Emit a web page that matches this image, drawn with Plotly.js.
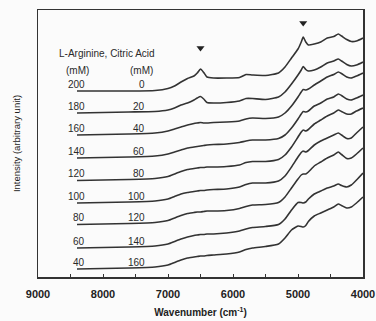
<!DOCTYPE html>
<html>
<head>
<meta charset="utf-8">
<script src="https://cdn.plot.ly/plotly-3.0.1.min.js"></script>
<style>html,body{margin:0;padding:0;background:#fbfbfb;}#chart{width:376px;height:321px;}</style>
</head>
<body>
<div id="chart"></div>
<script>
// Wavenumber grid (cm^-1)
const wavenumber = [8400, 8000, 7600, 7200, 7000, 6900, 6800, 6700, 6600, 6550, 6500, 6450, 6400, 6300, 6100, 5900, 5800, 5700, 5500, 5300, 5200, 5100, 5000, 4950, 4920, 4880, 4840, 4750, 4650, 4550, 4450, 4380, 4330, 4250, 4180, 4100, 4000];

// Concentration labels (mM)
const arginine = [200, 180, 160, 140, 120, 100, 80, 60, 40];
const citricAcid = [0, 20, 40, 60, 80, 100, 120, 140, 160];

// Intensity (arbitrary unit, stacked as drawn)
const s200_0   = [189, 189, 189, 189.5, 191.5, 194, 198, 201.5, 204, 207, 211, 207.5, 203, 202, 202, 202.5, 205.5, 205, 204.5, 207, 213, 222, 231, 238, 243, 238, 235, 236, 238, 242, 243.5, 246, 244, 240.5, 238.5, 239, 242];
const s180_20  = [167, 167.5, 168, 168.5, 170, 172, 175, 177, 180, 182, 183.5, 181, 177.5, 177, 177.5, 179, 181.5, 181.5, 180.5, 183, 188, 196, 205, 210, 213.5, 210.5, 209, 210, 213, 217, 219, 221, 219, 215.5, 214, 215, 218];
const s160_40  = [145, 145.5, 146, 147, 149, 151, 153, 155, 156.5, 157, 157.5, 157, 157, 157.5, 158, 159, 161, 162, 161.5, 163, 167, 174, 183, 188, 190.5, 190, 191, 195, 199, 203, 205.5, 208, 206.5, 203, 202, 204, 207];
const s140_60  = [122, 122.5, 123, 124, 126, 128, 130, 132, 133, 133.5, 134, 134.5, 135, 135.5, 136, 137.5, 139, 140, 140, 141.5, 145, 152, 161, 166, 168.5, 168, 169, 174, 177, 181, 183, 186, 184.5, 181, 180, 182, 185];
const s120_80  = [99.5, 100, 100.5, 101.5, 103.5, 106, 108.5, 110.5, 111.5, 112, 112.5, 112.5, 113, 113, 113.5, 115, 117.5, 118.5, 118.5, 120.5, 125, 133, 143, 148, 150, 149, 150.5, 156, 160, 164, 167, 170, 168.5, 166, 166, 169, 172];
const s100_100 = [77, 77.5, 78, 79, 81, 83.5, 86, 87.5, 88.5, 89, 89.5, 89.5, 90, 90.5, 91, 93, 95.5, 97, 97, 99, 104, 113, 123, 127.5, 129, 128, 129.5, 135, 139, 142, 145, 147, 145, 141.5, 142, 147, 153];
const s80_120  = [55.5, 56, 56.5, 57.5, 59.5, 62, 64.5, 66.5, 67.5, 68, 68, 68.5, 69, 69, 69.5, 71.5, 73.5, 75, 75.5, 77.5, 83, 92, 101, 105, 106, 106, 108, 114, 118, 122, 125, 128, 125.5, 121.5, 122, 126, 132];
const s60_140  = [32, 32.5, 33, 34, 36, 38.5, 41, 43, 44.5, 45, 45.5, 45.5, 46, 46, 47, 49, 51, 52.5, 53.5, 55.5, 61, 70, 77.5, 77.5, 77, 78, 81, 86, 89, 92, 94, 96, 94.5, 93, 95, 100, 107];
const s40_160  = [11, 11.5, 12, 13, 15, 17.5, 20, 22, 23, 23.5, 24, 24, 24.5, 25, 26, 28, 30.5, 32, 33.5, 36, 42, 50, 54, 53.5, 53, 54.5, 58.5, 64, 67, 70, 73, 76, 74.5, 72, 73, 77, 83];

const spectra = [s200_0, s180_20, s160_40, s140_60, s120_80, s100_100, s80_120, s60_140, s40_160];

// Peak markers (arrowheads)
const peakWavenumber = [6500, 4920];
const peakMarkY = [232, 257];

const fam = 'Liberation Sans, Arial, sans-serif';
const textFont = {family: fam, size: 10, color: '#2a2a2a'};

const traces = spectra.map((s) => ({
  x: wavenumber, y: s, type: 'scatter', mode: 'lines',
  line: {color: '#333', width: 1.6, shape: 'spline', smoothing: 0.5},
  hoverinfo: 'skip', showlegend: false
}));
traces.push({
  x: peakWavenumber, y: peakMarkY, type: 'scatter', mode: 'markers',
  marker: {symbol: 'triangle-down', size: 7, color: '#222'},
  showlegend: false, hoverinfo: 'skip'
});

const annotations = [];
spectra.forEach((s, i) => {
  annotations.push({x: 8246, y: s[0], xref: 'x', yref: 'y', text: String(arginine[i]),
    showarrow: false, xanchor: 'right', yanchor: 'middle', yshift: 7, font: textFont});
  annotations.push({x: 7323, y: s[0], xref: 'x', yref: 'y', text: String(citricAcid[i]),
    showarrow: false, xanchor: 'right', yanchor: 'middle', yshift: 7, font: textFont});
});
annotations.push({x: 7938, y: 227, xref: 'x', yref: 'y', text: 'L-Arginine, Citric Acid',
  showarrow: false, xanchor: 'center', yanchor: 'middle', font: textFont});
annotations.push({x: 8400, y: 210, xref: 'x', yref: 'y', text: '(mM)',
  showarrow: false, xanchor: 'center', yanchor: 'middle', font: textFont});
annotations.push({x: 7415, y: 210, xref: 'x', yref: 'y', text: '(mM)',
  showarrow: false, xanchor: 'center', yanchor: 'middle', font: textFont});

const layout = {
  width: 376, height: 321,
  margin: {l: 38, r: 13, t: 10, b: 44},
  paper_bgcolor: '#fbfbfb', plot_bgcolor: '#fbfbfb',
  showlegend: false,
  xaxis: {
    range: [9000, 4000], tickvals: [9000, 8000, 7000, 6000, 5000, 4000],
    ticks: 'inside', ticklen: 3, tickcolor: '#333', tickwidth: 1,
    minor: {tickvals: [8500, 7500, 6500, 5500, 4500], ticks: 'inside', ticklen: 3, tickcolor: '#333'},
    showline: true, mirror: true, linecolor: '#333', linewidth: 1.5,
    showgrid: false, zeroline: false, ticklabelstandoff: 6,
    tickfont: {family: fam, size: 11, color: '#222', weight: 'bold'},
    title: {text: 'Wavenumber (cm<sup>-1</sup>)', standoff: 10,
      font: {family: fam, size: 10, color: '#222', weight: 'bold'}}
  },
  yaxis: {
    range: [3, 270], showticklabels: false, ticks: '',
    showline: true, mirror: true, linecolor: '#333', linewidth: 1.5,
    showgrid: false, zeroline: false,
    title: {text: 'Intensity (arbitrary unit)', standoff: 14,
      font: {family: fam, size: 9.5, color: '#222'}}
  },
  annotations: annotations
};

Plotly.newPlot('chart', traces, layout, {staticPlot: true, displayModeBar: false});
</script>
</body>
</html>
